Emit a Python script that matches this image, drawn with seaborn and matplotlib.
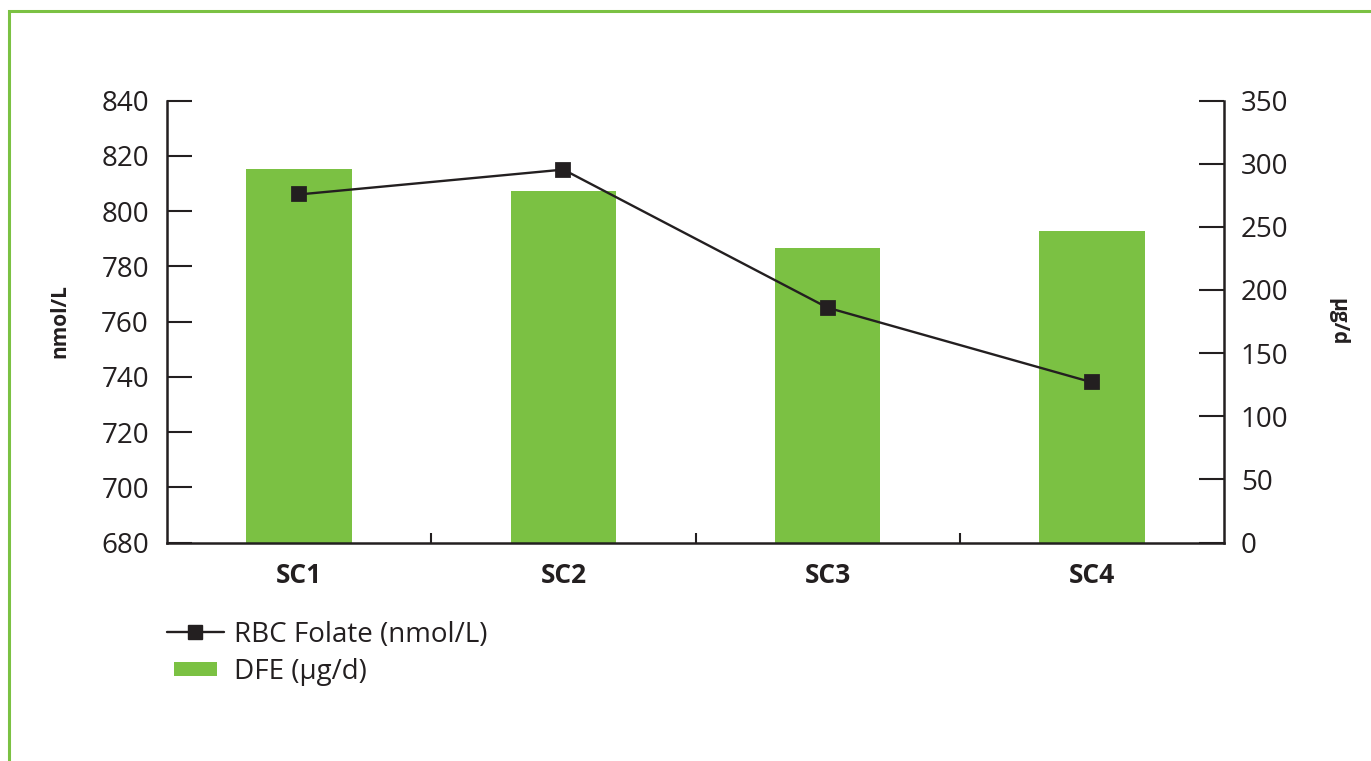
import matplotlib
matplotlib.use("Agg")
import matplotlib.pyplot as plt
import matplotlib.patches as mpatches
from matplotlib.lines import Line2D
from matplotlib.legend_handler import HandlerPatch
import seaborn as sns
import numpy as np

# Data
categories = ["SC1", "SC2", "SC3", "SC4"]
rbc_folate = [806, 815, 765, 738]      # nmol/L, left axis
dfe = [296, 278, 233, 247]             # µg/d, right axis

ink = "#231f20"
green = "#7bc143"

sns.set_theme(style="white")
plt.rcParams["font.family"] = ["Open Sans", "DejaVu Sans"]
plt.rcParams["text.color"] = ink
plt.rcParams["axes.labelcolor"] = ink
plt.rcParams["xtick.color"] = ink
plt.rcParams["ytick.color"] = ink

fig = plt.figure(figsize=(13.71, 7.61), dpi=100)
ax = fig.add_axes([0.1218, 0.2871, 0.7710, 0.5808])
ax2 = ax.twinx()

# Bars on the right-hand scale
sns.barplot(x=categories, y=dfe, color=green, width=0.4, ax=ax2,
            saturation=1, edgecolor="none")

# Line with square markers on the left-hand scale
sns.pointplot(x=categories, y=rbc_folate, color=ink, markers="s",
              linestyles="-", ax=ax, markersize=10.5, linewidth=1.7)

# Keep the line above the bars
ax.set_zorder(ax2.get_zorder() + 1)
ax.patch.set_visible(False)

ax.set_xlim(-0.5, 3.5)
ax2.set_xlim(-0.5, 3.5)
ax.set_ylim(680, 840)
ax.set_yticks(np.arange(680, 841, 20))
ax2.set_ylim(0, 350)
ax2.set_yticks(np.arange(0, 351, 50))

for a in (ax, ax2):
    for s in a.spines.values():
        s.set_visible(False)
        s.set_linewidth(1.8)
        s.set_color(ink)
ax.spines["left"].set_visible(True)
ax.spines["bottom"].set_visible(True)
ax2.spines["right"].set_visible(True)

ax.tick_params(axis="y", direction="in", length=18, width=1.5,
               labelsize=20, pad=13, left=True)
ax2.tick_params(axis="y", direction="in", length=18, width=1.5,
                labelsize=20, pad=12, right=True)
ax.set_xticks(range(len(categories)))
ax.set_xticklabels(categories, fontsize=19, fontweight="bold")
ax.tick_params(axis="x", length=0, pad=14)
ax.set_xticks([0.5, 1.5, 2.5], minor=True)
ax.tick_params(axis="x", which="minor", direction="in", length=7,
               width=1.5, bottom=True)
ax2.tick_params(axis="x", length=0)

ax.set_xlabel("")
ax2.set_xlabel("")
ax.set_ylabel("nmol/L", fontsize=15, fontweight="bold", labelpad=22)
ax2.set_ylabel("µg/d", fontsize=15, fontweight="bold", rotation=270,
               labelpad=28, va="bottom")


def narrow_patch(legend, orig_handle, xdescent, ydescent, width, height,
                 fontsize):
    w = width * 0.77
    h = height * 0.75
    return mpatches.Rectangle((xdescent + (width - w) / 2,
                               ydescent + (height - h) / 2), w, h)


handles = [
    Line2D([0], [0], color=ink, linewidth=1.7, marker="s", markersize=10.5),
    mpatches.Patch(facecolor=green, edgecolor="none"),
]
labels = ["RBC Folate (nmol/L)", "DFE (µg/d)"]
fig.legend(handles, labels, loc="upper left",
           bbox_to_anchor=(0.1218, 0.184), frameon=False, fontsize=20,
           handlelength=2.05, handletextpad=0.35, labelspacing=0.32,
           borderaxespad=0, borderpad=0,
           handler_map={mpatches.Patch: HandlerPatch(patch_func=narrow_patch)})

# Green frame along the top and left edges
frame = mpatches.Rectangle((8.5 / 1371, -0.1), 1.2, (761 - 10.5) / 761 + 0.1,
                           transform=fig.transFigure, fill=False,
                           edgecolor=green, linewidth=2.2, clip_on=False)
fig.patches.append(frame)

fig.savefig("out.png", dpi=100)
